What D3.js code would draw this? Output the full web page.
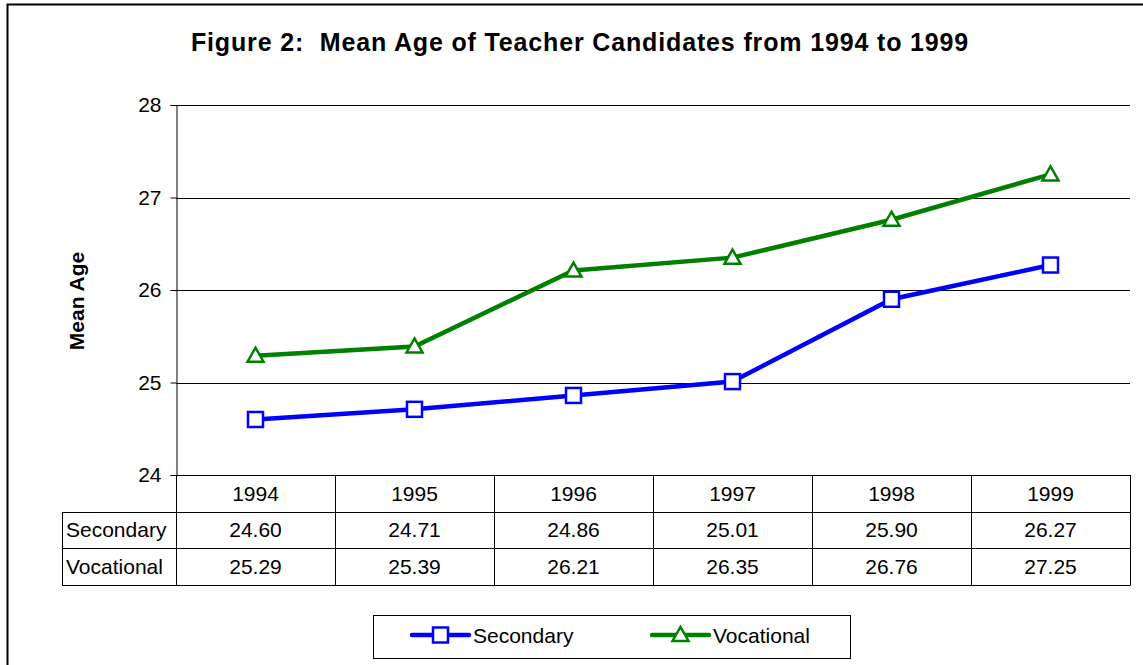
<!DOCTYPE html>
<html>
<head>
<meta charset="utf-8">
<script src="https://cdn.jsdelivr.net/npm/d3@7"></script>
<style>
  body { margin: 0; background: #fff; }
  text { font-family: Arial, "Liberation Sans", sans-serif; fill: #000; }
</style>
</head>
<body>
<div id="chart"></div>
<script>
// data
var years = ["1994", "1995", "1996", "1997", "1998", "1999"];
var secondary = [24.60, 24.71, 24.86, 25.01, 25.90, 26.27];
var vocational = [25.29, 25.39, 26.21, 26.35, 26.76, 27.25];
var seriesNames = ["Secondary", "Vocational"];
var seriesColors = ["#0000ff", "#008000"];
var yTicks = [24, 25, 26, 27, 28];

var W = 1143, H = 665;
var plot = {left: 176, right: 1130, top: 105, bottom: 475};
var rowH = 36.5;
var fs = "21px";

var svg = d3.select("#chart")
  .append("svg")
    .attr("width", W)
    .attr("height", H);

// outer frame
svg.append("rect")
  .attr("x", 7.5).attr("y", 4.5)
  .attr("width", W + 10).attr("height", H + 10)
  .attr("fill", "none")
  .attr("stroke", "#000")
  .attr("stroke-width", 2);

svg.append("text")
  .attr("x", 580).attr("y", 51)
  .attr("text-anchor", "middle")
  .style("font-size", "25px")
  .style("font-weight", "bold")
  .style("letter-spacing", "0.85px")
  .style("white-space", "pre")
  .text("Figure 2:  Mean Age of Teacher Candidates from 1994 to 1999");

var x = d3.scaleBand()
  .domain(years)
  .range([plot.left, plot.right]);

var y = d3.scaleLinear()
  .domain([24, 28])
  .range([plot.bottom, plot.top]);

// gridlines
svg.append("g")
  .selectAll("line")
  .data(yTicks.slice(1))
  .enter()
  .append("line")
    .attr("x1", plot.left).attr("x2", plot.right)
    .attr("y1", function(d) { return Math.round(y(d)) + 0.5; })
    .attr("y2", function(d) { return Math.round(y(d)) + 0.5; })
    .attr("stroke", "#000")
    .attr("stroke-width", 1);

// y axis
var yAxis = svg.append("g")
  .attr("transform", "translate(" + (plot.left + 0.5) + ",0)")
  .call(d3.axisLeft(y).tickValues(yTicks).tickSize(6).tickPadding(9).tickFormat(d3.format("d")));
yAxis.select(".domain").attr("stroke", "#000");
yAxis.selectAll(".tick line").attr("stroke", "#000");
yAxis.selectAll("text")
  .style("font-size", fs)
  .style("font-family", "Arial, 'Liberation Sans', sans-serif");

svg.append("text")
  .attr("transform", "translate(84,301) rotate(-90)")
  .attr("text-anchor", "middle")
  .style("font-size", fs)
  .style("font-weight", "bold")
  .text("Mean Age");

// lines
var series = [secondary, vocational];
var line = d3.line()
  .x(function(d, i) { return x(years[i]) + x.bandwidth() / 2; })
  .y(function(d) { return y(d); });

series.forEach(function(vals, s) {
  svg.append("path")
    .datum(vals)
    .attr("d", line)
    .attr("fill", "none")
    .attr("stroke", seriesColors[s])
    .attr("stroke-width", 4.5);
});

function drawMarker(g, s, cx, cy) {
  if (s === 0) {
    g.append("rect")
      .attr("x", cx - 7.5).attr("y", cy - 7.5)
      .attr("width", 15).attr("height", 15)
      .attr("fill", "#fff")
      .attr("stroke", seriesColors[s])
      .attr("stroke-width", 2.5);
  } else {
    g.append("path")
      .attr("d", "M" + cx + "," + (cy - 8) + "L" + (cx + 8) + "," + (cy + 6) + "L" + (cx - 8) + "," + (cy + 6) + "Z")
      .attr("fill", "#fff")
      .attr("stroke", seriesColors[s])
      .attr("stroke-width", 2.5);
  }
}

series.forEach(function(vals, s) {
  var g = svg.append("g");
  vals.forEach(function(v, i) {
    drawMarker(g, s, x(years[i]) + x.bandwidth() / 2, y(v));
  });
});

// data table
var table = svg.append("g");
var tLeft = 62;
var rowsY = [plot.bottom, plot.bottom + rowH, plot.bottom + 2 * rowH, plot.bottom + 3 * rowH];

table.append("line")
  .attr("x1", plot.left).attr("x2", plot.right)
  .attr("y1", plot.bottom + 0.5).attr("y2", plot.bottom + 0.5)
  .attr("stroke", "#000");
[1, 2, 3].forEach(function(r) {
  table.append("line")
    .attr("x1", tLeft).attr("x2", plot.right)
    .attr("y1", Math.round(rowsY[r]) + 0.5).attr("y2", Math.round(rowsY[r]) + 0.5)
    .attr("stroke", "#000");
});
var bounds = years.map(function(d) { return x(d); }).concat([plot.right]);
bounds.forEach(function(bx) {
  table.append("line")
    .attr("x1", Math.round(bx) + 0.5).attr("x2", Math.round(bx) + 0.5)
    .attr("y1", plot.bottom).attr("y2", Math.round(rowsY[3]) + 0.5)
    .attr("stroke", "#000");
});
table.append("line")
  .attr("x1", tLeft + 0.5).attr("x2", tLeft + 0.5)
  .attr("y1", Math.round(rowsY[1])).attr("y2", Math.round(rowsY[3]) + 0.5)
  .attr("stroke", "#000");

table.selectAll("text.yr")
  .data(years)
  .enter()
  .append("text")
    .attr("class", "yr")
    .attr("x", function(d) { return x(d) + x.bandwidth() / 2; })
    .attr("y", rowsY[0] + rowH / 2 + 7.5)
    .attr("text-anchor", "middle")
    .style("font-size", fs)
    .text(function(d) { return d; });

series.forEach(function(vals, s) {
  table.append("text")
    .attr("x", tLeft + 4)
    .attr("y", rowsY[s + 1] + rowH / 2 + 7.5)
    .style("font-size", fs)
    .text(seriesNames[s]);
  table.selectAll("text.v" + s)
    .data(vals)
    .enter()
    .append("text")
      .attr("class", "v" + s)
      .attr("x", function(d, i) { return x(years[i]) + x.bandwidth() / 2; })
      .attr("y", rowsY[s + 1] + rowH / 2 + 7.5)
      .attr("text-anchor", "middle")
      .style("font-size", fs)
      .text(function(d) { return d.toFixed(2); });
});

// legend
var legend = svg.append("g");
legend.append("rect")
  .attr("x", 373.5).attr("y", 615.5)
  .attr("width", 477).attr("height", 43)
  .attr("fill", "#fff")
  .attr("stroke", "#000");

var legX = [412, 652];
seriesNames.forEach(function(name, s) {
  var ly = 635;
  legend.append("line")
    .attr("x1", legX[s]).attr("x2", legX[s] + 57)
    .attr("y1", ly).attr("y2", ly)
    .attr("stroke", seriesColors[s])
    .attr("stroke-width", 4.5)
    .attr("stroke-linecap", "round");
  drawMarker(legend, s, legX[s] + 28.5, ly);
  legend.append("text")
    .attr("x", legX[s] + 61)
    .attr("y", ly + 7.5)
    .style("font-size", fs)
    .text(name);
});
</script>
</body>
</html>
